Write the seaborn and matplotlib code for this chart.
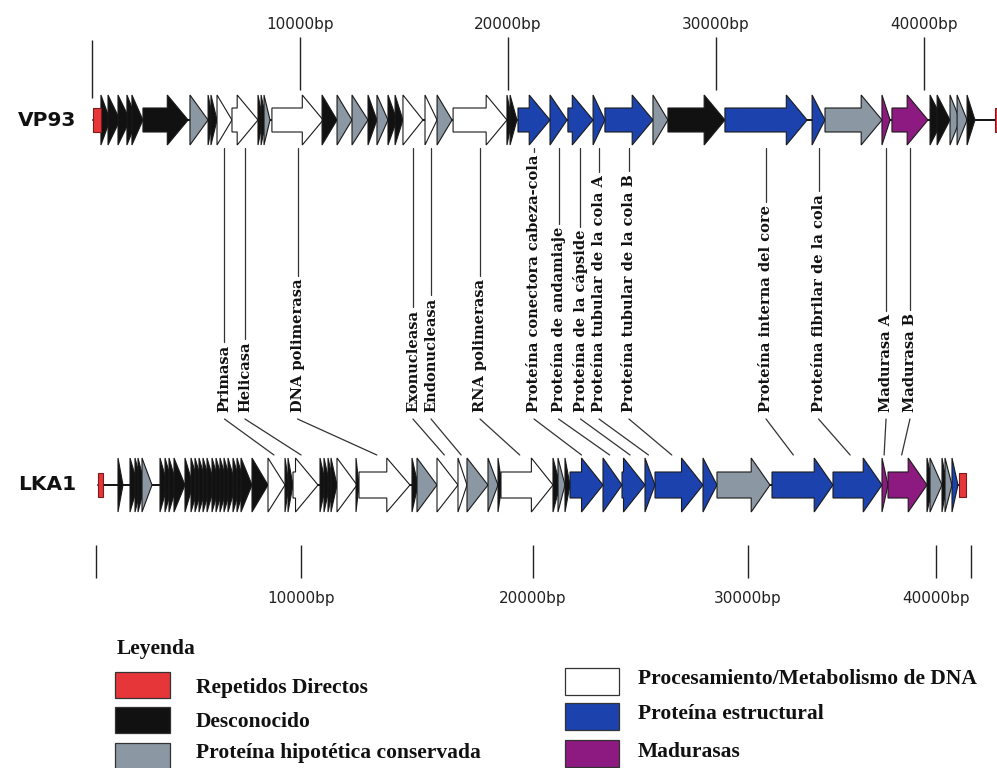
import numpy as np
import matplotlib
matplotlib.use("Agg")
import matplotlib.pyplot as plt
from matplotlib.patches import Polygon, Rectangle, ConnectionPatch
import seaborn as sns

# ---------------------------------------------------------------- data
# Gene categories: D = Desconocido, H = Proteina hipotetica conservada,
# P = Procesamiento/Metabolismo de DNA, E = Proteina estructural, M = Madurasas
vp93_start = [430, 770, 1250, 1680, 1920, 2450, 4710, 5580, 5720, 6010, 6730, 7980, 8130, 8270,
              8650, 11060, 11780, 12500, 13270, 13700, 14230, 14570, 14950, 16010, 16590, 17360,
              19950, 20100, 20480, 22020, 22880, 24090, 24660, 26970, 27690, 30430, 34620, 35240,
              37980, 38460, 40290, 40630, 41250, 41590, 42070]
vp93_end = [870, 1350, 1830, 2160, 2450, 4620, 5580, 5820, 6010, 6730, 7980, 8220, 8370, 8560,
            11110, 11780, 12500, 13270, 13700, 14230, 14660, 14950, 15910, 16590, 17310, 19950,
            20190, 20430, 22020, 22840, 24090, 24660, 26970, 27690, 30430, 34380, 35240, 37980,
            38370, 40190, 40910, 41250, 41730, 42070, 42450]
vp93_cat = list("DDDDDDHDDPPDDHPDHHDHDDPPHPDDEEEEEHDEEHMMDDHHD")
vp93_repeats = [(50, 430), (43410, 43800)]
vp93_length = 43800

lka1_start = [1073, 1659, 1902, 2049, 2244, 3122, 3366, 3561, 3805, 4341, 4634, 4829, 5024, 5220,
              5415, 5659, 5854, 6049, 6244, 6439, 6683, 6878, 7073, 7610, 8390, 9220, 9366, 9610,
              10819, 10991, 11164, 11293, 11552, 12371, 12500, 14784, 15000, 15862, 16767, 17155,
              18060, 18491, 18620, 20930, 21163, 21488, 21721, 23256, 24140, 25209, 25674, 27907,
              28558, 31277, 34521, 37128, 37447, 39521, 39681, 40273, 40410, 40728]
lka1_end = [1317, 2049, 2244, 2390, 2732, 3500, 3750, 3950, 4341, 4730, 5024, 5220, 5415, 5610,
            5805, 6049, 6244, 6439, 6634, 6830, 7073, 7268, 7610, 8390, 9220, 9415, 9610, 10733,
            11078, 11250, 11422, 11552, 12414, 12500, 14698, 15043, 15862, 16767, 17155, 18060,
            18491, 18664, 20930, 21256, 21488, 21721, 23256, 24140, 25209, 25674, 27907, 28558,
            31170, 34521, 37128, 37447, 39521, 39840, 40273, 40500, 40728, 41000]
lka1_cat = list("DDDDHDDDDDDDDDDDDDDDDDDDPDDPDDDDPDPDHPPHHDPDHDEEEEEEHEEMMDHDHE")
lka1_repeats = [(100, 340), (41046, 41365)]
lka1_length = 41593

# Annotated homologous genes (index in each genome's gene list)
label_text = ["Primasa", "Helicasa", "DNA polimerasa", "Exonucleasa", "Endonucleasa",
              "RNA polimerasa", "Proteína conectora cabeza-cola", "Proteína de andamiaje",
              "Proteína de la cápside", "Proteína tubular de la cola A",
              "Proteína tubular de la cola B", "Proteína interna del core",
              "Proteína fibrilar de la cola", "Madurasa A", "Madurasa B"]
label_vp93_gene = [9, 10, 14, 22, 23, 25, 28, 29, 30, 31, 32, 35, 36, 38, 39]
label_lka1_gene = [24, 27, 34, 37, 38, 42, 46, 47, 48, 49, 50, 53, 54, 55, 56]

ruler_ticks = [10000, 20000, 30000, 40000]

legend_left = ["DR", "D", "H"]
legend_right = ["P", "E", "M"]
category_name = {"DR": "Repetidos Directos", "D": "Desconocido",
                 "H": "Proteína hipotética conservada",
                 "P": "Procesamiento/Metabolismo de DNA", "E": "Proteína estructural",
                 "M": "Madurasas"}

# ---------------------------------------------------------------- style
colors = {"DR": "#e6363a", "D": "#111111", "H": "#8b97a2", "P": "#ffffff",
          "E": "#1c43ad", "M": "#8d1a80"}

sns.set_theme(style="white")
plt.rcParams["font.family"] = ["DejaVu Sans"]

W, H = 997, 768
fig = plt.figure(figsize=(W / 100, H / 100), dpi=100)
fig.patch.set_facecolor("white")

VP93_Y, LKA1_Y = 120, 485          # track centre lines (pixel rows)
HEAD_BP = 1000                     # arrow-head length


def piecewise(x, xs, ys):
    x = np.asarray(x, dtype=float)
    y = np.interp(x, xs, ys)
    s0 = (ys[1] - ys[0]) / (xs[1] - xs[0])
    s1 = (ys[-1] - ys[-2]) / (xs[-1] - xs[-2])
    y = np.where(x < xs[0], ys[0] + (x - xs[0]) * s0, y)
    y = np.where(x > xs[-1], ys[-1] + (x - xs[-1]) * s1, y)
    return y


def track_axes(name, bp_marks, px_marks):
    """Full-figure axes whose x axis follows the printed bp ruler of a genome map."""
    ax = fig.add_axes([0, 0, 1, 1], label=name)
    bp_marks = np.asarray(bp_marks, float)
    px_marks = np.asarray(px_marks, float)
    ax.set_xscale("function", functions=(lambda v: piecewise(v, bp_marks, px_marks),
                                         lambda p: piecewise(p, px_marks, bp_marks)))
    ax.axis("off")
    ax.patch.set_alpha(0)
    return ax, (float(piecewise(0, px_marks, bp_marks)), float(piecewise(W, px_marks, bp_marks)))


ax_vp, vp_lim = track_axes("vp93", [0, 40000], [92, 924])
ax_lk, lk_lim = track_axes("lka1", [0, 10000, 20000, 30000, 40000, lka1_length],
                           [96, 301, 533, 748, 936, 971])


def arrow_xy(s, e, y, body, head):
    L = e - s
    h = min(HEAD_BP, L)
    if L > h:
        return [(s, y - body), (e - h, y - body), (e - h, y - head), (e, y),
                (e - h, y + head), (e - h, y + body), (s, y + body)]
    return [(s, y - head), (e, y), (s, y + head)]


def draw_track(ax, lim, y, starts, ends, cats, repeats, backbone_end, body, head):
    sns.lineplot(x=[repeats[0][0], backbone_end], y=[y, y], ax=ax, color="black",
                 linewidth=1.3, legend=False, zorder=1)
    for s, e, c in zip(starts, ends, cats):
        ax.add_patch(Polygon(arrow_xy(s, e, y, body, head), closed=True, facecolor=colors[c],
                             edgecolor="#1a1a1a", linewidth=0.8, zorder=3))
    for s, e in repeats:
        ax.add_patch(Rectangle((s, y - 12), e - s, 24, facecolor=colors["DR"],
                               edgecolor="#7a1a1a", linewidth=0.8, zorder=4))
    ax.set_xlim(*lim)
    ax.set_ylim(H, 0)
    ax.set_xlabel("")
    ax.set_ylabel("")


draw_track(ax_vp, vp_lim, VP93_Y, vp93_start, vp93_end, vp93_cat, vp93_repeats,
           vp93_length, 12, 25)
draw_track(ax_lk, lk_lim, LKA1_Y, lka1_start, lka1_end, lka1_cat, lka1_repeats,
           lka1_repeats[-1][0], 13, 27)

# genome names
name_kw = dict(fontsize=14.5, fontweight="heavy", color="#111111", va="center", ha="left",
               family="DejaVu Sans")
fig.text(18 / W, 1 - VP93_Y / H, "VP93", **name_kw)
fig.text(18 / W, 1 - LKA1_Y / H, "LKA1", **name_kw)

# rulers
tick_kw = dict(color="#222222", linewidth=1.0)
ax_vp.vlines([0], 40, 98, **tick_kw)
ax_vp.vlines(ruler_ticks, 37, 90, **tick_kw)
ax_lk.vlines([0] + ruler_ticks + [lka1_length], 545, 578, **tick_kw)
for t in ruler_ticks:
    ax_vp.text(t, 25, f"{t}bp", ha="center", va="center", fontsize=11, color="#222222")
    ax_lk.text(t, 598, f"{t}bp", ha="center", va="center", fontsize=11, color="#222222")

# gene annotations
LABEL_Y = 412
texts = []
for name, gi in zip(label_text, label_vp93_gene):
    mid = 0.5 * (vp93_start[gi] + vp93_end[gi])
    t = ax_vp.text(mid, LABEL_Y, name, rotation=90, rotation_mode="anchor", ha="left",
                   va="center", fontsize=10.5, fontweight="bold", family="DejaVu Serif",
                   color="#111111")
    texts.append((t, mid))

fig.canvas.draw()
renderer = fig.canvas.get_renderer()
line_kw = dict(color="#333333", linewidth=0.9)
for (t, mid), gl in zip(texts, label_lka1_gene):
    bb = t.get_window_extent(renderer)
    top = ax_vp.transData.inverted().transform((0, bb.y1))[1]
    ax_vp.plot([mid, mid], [VP93_Y + 28, top - 3], **line_kw)
    target = lka1_start[gl] + 0.35 * (lka1_end[gl] - lka1_start[gl])
    con = ConnectionPatch(xyA=(mid, LABEL_Y + 7), coordsA=ax_vp.transData,
                          xyB=(target, LKA1_Y - 30), coordsB=ax_lk.transData, **line_kw)
    fig.add_artist(con)

# legend
ax_leg = fig.add_axes([0, 0, 1, 1], label="legend")
ax_leg.set_xlim(0, W)
ax_leg.set_ylim(H, 0)
ax_leg.axis("off")
ax_leg.patch.set_alpha(0)
leg_font = dict(family="Liberation Serif", fontweight="bold", fontsize=15.5, color="#111111",
                va="center", ha="left")
ax_leg.text(117, 649, "Leyenda", **leg_font)
for cat, ytop, ytext in zip(legend_left, [672, 707, 743], [688, 722, 753]):
    ax_leg.add_patch(Rectangle((115, ytop), 55, 26, facecolor=colors[cat],
                               edgecolor="#333333", linewidth=0.9))
    ax_leg.text(196, ytext, category_name[cat], **leg_font)
for cat, ytop, ytext in zip(legend_right, [668, 703, 740], [679, 714, 752]):
    ax_leg.add_patch(Rectangle((565, ytop), 54, 27, facecolor=colors[cat],
                               edgecolor="#333333", linewidth=0.9))
    ax_leg.text(638, ytext, category_name[cat], **leg_font)

fig.savefig("out.png", dpi=100, facecolor="white")
